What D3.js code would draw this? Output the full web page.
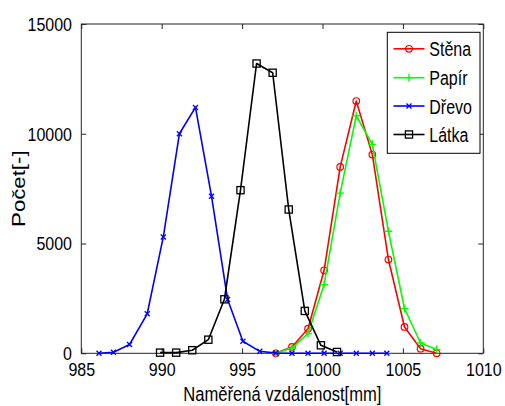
<!DOCTYPE html>
<html><head><meta charset="utf-8">
<script src="https://cdn.jsdelivr.net/npm/d3@7"></script>
<style>body{margin:0;background:#fff}svg{display:block}text{font-family:"Liberation Sans",Arial,sans-serif;fill:#000}</style>
</head><body><svg id="c" width="505" height="406"></svg>
<script>
const xTicks = [985, 990, 995, 1000, 1005, 1010];
const yTicks = [0, 5000, 10000, 15000];
const seriesNames = ["Stěna", "Papír", "Dřevo", "Látka"];
const seriesColors = ["#ff0000", "#00ff00", "#0000ff", "#000000"];
const seriesMarkers = ["circle", "plus", "x", "square"];

const stenaX = [997.1, 998.1, 999.1, 1000.1, 1001.1, 1002.1, 1003.1, 1004.1, 1005.1, 1006.1, 1007.1];
const stenaY = [0, 290, 1120, 3780, 8490, 11490, 9050, 4270, 1200, 210, 0];
const papirX = [997.1, 998.1, 999.1, 1000.1, 1001.1, 1002.1, 1003.1, 1004.1, 1005.1, 1006.1, 1007.1];
const papirY = [0, 240, 900, 3130, 7300, 10820, 9520, 5560, 2040, 470, 170];
const drevoX = [986.1, 987.0, 988.0, 989.1, 990.1, 991.1, 992.1, 993.1, 994.1, 995.05, 996.1, 997.1, 998.1, 999.1, 1000.1, 1001.1, 1002.1, 1003.1, 1004.0];
const drevoY = [0, 50, 400, 1800, 5300, 10000, 11200, 7150, 2450, 550, 90, 10, 0, 0, 0, 0, 0, 0, 0];
const latkaX = [989.9, 990.9, 991.9, 992.9, 993.9, 994.9, 995.9, 996.9, 997.9, 998.9, 999.9, 1000.9];
const latkaY = [30, 30, 140, 620, 2460, 7430, 13200, 12780, 6550, 1930, 365, 60];

const xLabel = "Naměřená vzdálenost[mm]";
const yLabel = "Počet[-]";

const seriesX = [stenaX, papirX, drevoX, latkaX];
const seriesY = [stenaY, papirY, drevoY, latkaY];

const L = 81.3, R = 483.3, T = 24, B = 353.3;
const x = d3.scaleLinear().domain([985, 1010]).range([L, R]);
const y = d3.scaleLinear().domain([0, 15000]).range([B, T]);
const svg = d3.select("#c");
const axisColor = "#262626";

// box
svg.append("rect").attr("x", L).attr("y", T).attr("width", R - L).attr("height", B - T)
  .attr("fill", "none").attr("stroke", axisColor).attr("stroke-width", 1);

function styleAxis(g) {
  g.select(".domain").remove();
  g.selectAll(".tick line").attr("stroke", axisColor);
}
const bx = svg.append("g").attr("transform", `translate(0,${B})`)
  .call(d3.axisBottom(x).tickValues(xTicks).tickSizeInner(-5).tickSizeOuter(0).tickFormat(d3.format("d")));
styleAxis(bx);
bx.selectAll(".tick text").attr("y", null).attr("dy", null).attr("font-size", 16)
  .attr("transform", "translate(0,22.7) scale(1,1.15)").attr("fill", "#000");
const tx = svg.append("g").attr("transform", `translate(0,${T})`)
  .call(d3.axisTop(x).tickValues(xTicks).tickSizeInner(-5).tickSizeOuter(0).tickFormat(""));
styleAxis(tx);
const ly = svg.append("g").attr("transform", `translate(${L},0)`)
  .call(d3.axisLeft(y).tickValues(yTicks).tickSizeInner(-5).tickSizeOuter(0).tickFormat(d3.format("d")));
styleAxis(ly);
ly.selectAll(".tick text").attr("x", null).attr("dy", null).attr("font-size", 16)
  .attr("transform", "translate(-9.3,6.3) scale(1,1.15)").attr("fill", "#000");
const ry = svg.append("g").attr("transform", `translate(${R},0)`)
  .call(d3.axisRight(y).tickValues(yTicks).tickSizeInner(-5).tickSizeOuter(0).tickFormat(""));
styleAxis(ry);

// axis labels
svg.append("text").attr("text-anchor", "middle").attr("font-size", 16.6)
  .attr("transform", `translate(${(L + R) / 2},401) scale(1,1.22)`).text(xLabel);
svg.append("text").attr("text-anchor", "middle").attr("font-size", 18.5)
  .attr("transform", `translate(25,${(T + B) / 2}) scale(1,1.2) rotate(-90)`).text(yLabel);

function marker(g, type, cx, cy, color) {
  if (type === "circle") {
    g.append("circle").attr("cx", cx).attr("cy", cy).attr("r", 3.3)
      .attr("fill", "none").attr("stroke", color).attr("stroke-width", 1.2);
  } else if (type === "plus") {
    g.append("path").attr("d", `M${cx - 4},${cy}H${cx + 4}M${cx},${cy - 4}V${cy + 4}`)
      .attr("stroke", color).attr("stroke-width", 1.3);
  } else if (type === "x") {
    g.append("path").attr("d", `M${cx - 2.5},${cy - 2.5}L${cx + 2.5},${cy + 2.5}M${cx - 2.5},${cy + 2.5}L${cx + 2.5},${cy - 2.5}`)
      .attr("stroke", color).attr("stroke-width", 1.3);
  } else if (type === "square") {
    g.append("rect").attr("x", cx - 3.6).attr("y", cy - 3.6).attr("width", 7.2).attr("height", 7.2)
      .attr("fill", "none").attr("stroke", color).attr("stroke-width", 1.3);
  }
}

const line = d3.line().x(d => x(d[0])).y(d => y(d[1]));
const plot = svg.append("g");
seriesNames.forEach((name, i) => {
  const pts = seriesX[i].map((xv, j) => [xv, seriesY[i][j]]);
  const g = plot.append("g");
  g.append("path").attr("d", line(pts)).attr("fill", "none")
    .attr("stroke", seriesColors[i]).attr("stroke-width", 1.6).attr("stroke-linejoin", "round");
  pts.forEach(p => marker(g, seriesMarkers[i], x(p[0]), y(p[1]), seriesColors[i]));
});

// legend
const lg = svg.append("g");
lg.append("rect").attr("x", 387.3).attr("y", 32.3).attr("width", 92.7).attr("height", 121)
  .attr("fill", "#fff").attr("stroke", "#000").attr("stroke-width", 1);
const rowY = [48.8, 77.7, 106, 134.5];
seriesNames.forEach((name, i) => {
  const cy = rowY[i];
  lg.append("line").attr("x1", 393.5).attr("x2", 424.5).attr("y1", cy).attr("y2", cy)
    .attr("stroke", seriesColors[i]).attr("stroke-width", 1.6);
  marker(lg, seriesMarkers[i], 409, cy, seriesColors[i]);
  lg.append("text").attr("font-size", 16)
    .attr("transform", `translate(429.3,${cy + 7.6}) scale(1,1.3)`).text(name);
});
</script></body></html>
